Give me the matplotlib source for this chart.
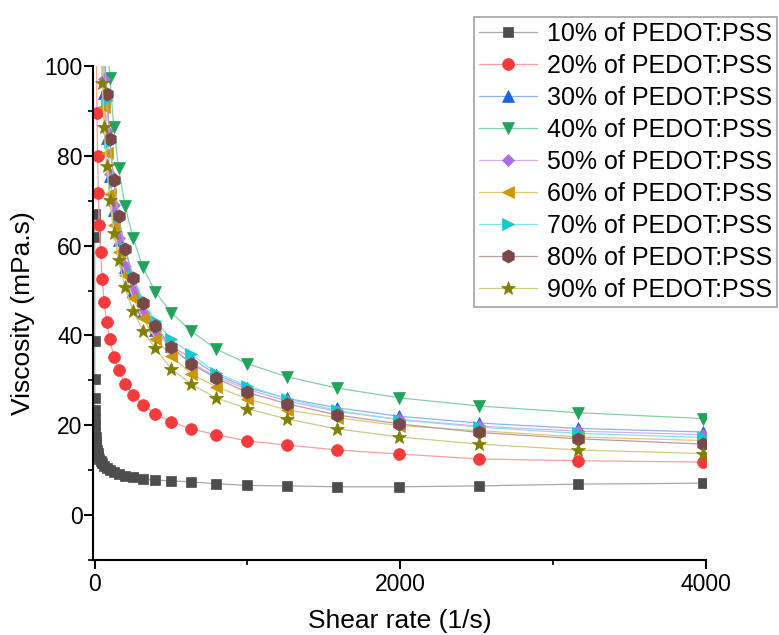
import numpy as np
import matplotlib
matplotlib.use('Agg')
import matplotlib.pyplot as plt
from matplotlib.ticker import MultipleLocator

plt.rcParams['font.family'] = ['Liberation Sans', 'DejaVu Sans']

nan = np.nan

# shear rate (1/s), 10 points per decade
shear_rate = [1, 1.26, 1.58, 2, 2.51, 3.16, 3.98, 5.01, 6.31, 7.94,
              10, 12.6, 15.8, 20, 25.1, 31.6, 39.8, 50.1, 63.1, 79.4,
              100, 126, 158, 200, 251, 316, 398, 501, 631, 794,
              1000, 1259, 1585, 1995, 2512, 3162, 3981]

# viscosity (mPa.s) per PEDOT:PSS content
v10 = [67, 62, 38.8, 30.4, 26, 23.5, 21.5, 20, 18.6, 17.4,
       16.3, 15.4, 14.6, 13.8, 13.2, 12.6, 12.0, 11.5, 11.0, 10.5,
       10.1, 9.6, 9.2, 8.8, 8.5, 8.0, 7.8, 7.6, 7.4, 7.0,
       6.6, 6.5, 6.3, 6.3, 6.5, 6.9, 7.1]
v20 = [nan] * 11 + [103, 89.5, 79.9, 71.7, 64.5, 58.5, 52.6, 47.5, 42.9,
                    39.1, 35.3, 32.4, 29.2, 26.8, 24.6, 22.5, 20.8, 19.2, 17.9,
                    16.5, 15.6, 14.5, 13.6, 12.5, 12.1, 11.8]
v30 = [nan] * 17 + [106, 94, 84, 75.5, 67.9, 61.2, 55.2, 50, 45.2, 41.2, 37.6,
                    35.0, 31.3, 28.4, 26.0, 23.9, 22.0, 20.5, 19.3, 18.5]
v40 = [nan] * 19 + [109, 97.3, 86.4, 77.2, 68.8, 61.8, 55.2, 49.7, 45.1,
                    41.0, 37.0, 33.7, 30.8, 28.3, 26.1, 24.3, 22.8, 21.5]
v50 = [nan] * 17 + [110, 97, 85.5, 76, 69, 61.8, 55.5, 50.2, 45.2, 41.0, 37.2,
                    34.0, 30.8, 28.0, 25.4, 23.1, 21.3, 19.8, 18.7, 17.9]
v60 = [nan] * 17 + [102, 90.8, 80.6, 71.6, 64.5, 58.5, 53.5, 48.4, 43.8, 39.3, 35.5,
                    31.5, 28.6, 25.9, 23.4, 21.7, 19.9, 18.8, 17.4, 16.6]
v70 = [nan] * 18 + [103, 92.5, 83, 74.2, 66.3, 59.4, 53.4, 48, 43.2, 39.2,
                    35.9, 31.7, 28.8, 25.9, 23.3, 21.2, 19.6, 18.2, 17.3]
v80 = [nan] * 18 + [104, 93.8, 83.7, 74.6, 66.5, 59.2, 52.9, 47.3, 42.2, 37.5,
                    33.7, 30.5, 27.3, 24.8, 22.3, 20.3, 18.4, 17.0, 15.8]
v90 = [nan] * 16 + [107, 96.2, 86.4, 77.7, 70.1, 62.9, 56.7, 50.7, 45.5, 41.1,
                    37.1, 32.6, 29.2, 26.1, 23.7, 21.4, 19.2, 17.4, 15.8, 14.5, 13.7]

labels = ['10% of PEDOT:PSS', '20% of PEDOT:PSS', '30% of PEDOT:PSS',
          '40% of PEDOT:PSS', '50% of PEDOT:PSS', '60% of PEDOT:PSS',
          '70% of PEDOT:PSS', '80% of PEDOT:PSS', '90% of PEDOT:PSS']
series = [v10, v20, v30, v40, v50, v60, v70, v80, v90]

marker_colors = ['#4d4d4d', '#f53a3c', '#1e62dc', '#20a35a', '#b06ee4',
                 '#cc9600', '#18c8cc', '#7a4848', '#808000']
line_colors = ['#a8a8a8', '#f8a0a0', '#90b2f0', '#84d0a6', '#d4aef2',
               '#e4c678', '#86e4e6', '#bc9c9c', '#cccc84']
markers = ['s', 'o', '^', 'v', 'D', '<', '>', 'h', '*']
sizes = [7.5, 8.5, 9, 9, 6.5, 9, 9, 9.5, 10.5]

fig = plt.figure(figsize=(7.79, 6.35), dpi=100)
ax = fig.add_axes([93 / 779, 75 / 635, 613 / 779, 494 / 635])

for vals, lab, mc, lc, m, ms in zip(series, labels, marker_colors,
                                    line_colors, markers, sizes):
    ax.plot(shear_rate, vals, color=lc, lw=0.9, marker=m, markersize=ms,
            markerfacecolor=mc, markeredgecolor=mc, markeredgewidth=0.5,
            label=lab)

ax.set_xlim(-10, 4000)
ax.set_ylim(-10, 100)
ax.xaxis.set_major_locator(MultipleLocator(2000))
ax.xaxis.set_minor_locator(MultipleLocator(1000))
ax.yaxis.set_major_locator(MultipleLocator(20))
ax.yaxis.set_minor_locator(MultipleLocator(10))

ax.spines['top'].set_visible(False)
ax.spines['right'].set_visible(False)
ax.spines['left'].set_linewidth(1.5)
ax.spines['bottom'].set_linewidth(1.5)
ax.tick_params(which='major', direction='out', length=6.5, width=1.5,
               labelsize=16.5)
ax.tick_params(which='minor', direction='out', length=3.5, width=1.2)
ax.tick_params(axis='y', which='major', pad=1)
ax.tick_params(axis='x', which='major', pad=3)

ax.set_xlabel('Shear rate (1/s)', fontsize=19, labelpad=9)
ax.set_ylabel('Viscosity (mPa.s)', fontsize=19, labelpad=7)

leg = fig.legend(loc='upper right', bbox_to_anchor=(777 / 779, 1 - 17 / 635),
                 fontsize=18, frameon=True, fancybox=False, borderpad=0.2,
                 labelspacing=0.32, handlelength=2.3, handletextpad=0.4,
                 borderaxespad=0)
leg.get_frame().set_edgecolor('#8c8c8c')
leg.get_frame().set_linewidth(1.2)

fig.savefig('out.png', dpi=100)
